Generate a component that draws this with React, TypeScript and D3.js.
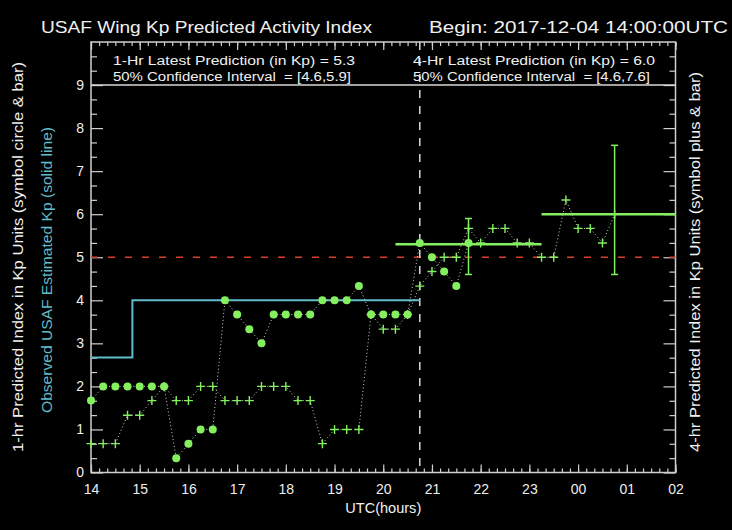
import * as d3 from "d3";
import { useEffect, useRef } from "react";

const START = "2017-12-04T14:00:00Z";
const END = "2017-12-05T02:00:00Z";
const NOW = "2017-12-04T20:45:00Z";

// 1-hr prediction, every 15 min from 14:00
const pred1hr = [
  1.67, 2.0, 2.0, 2.0, 2.0, 2.0, 2.0, 0.33, 0.67, 1.0, 1.0, 4.0, 3.67, 3.33, 3.0, 3.67,
  3.67, 3.67, 3.67, 4.0, 4.0, 4.0, 4.33, 3.67, 3.67, 3.67, 3.67, 5.33, 5.0, 4.67, 4.33, 5.33,
];
// 4-hr prediction, every 15 min from 14:00
const pred4hr = [
  0.67, 0.67, 0.67, 1.33, 1.33, 1.67, 2.0, 1.67, 1.67, 2.0, 2.0, 1.67, 1.67, 1.67, 2.0, 2.0,
  2.0, 1.67, 1.67, 0.67, 1.0, 1.0, 1.0, 3.67, 3.33, 3.33, 3.67, 4.33, 4.67, 5.0, 5.0, 5.67,
  5.33, 5.67, 5.67, 5.33, 5.33, 5.0, 5.0, 6.33, 5.67, 5.67, 5.33, 6.0,
];

const observedTimes = ["2017-12-04T14:00:00Z", "2017-12-04T14:51:00Z", "2017-12-04T20:45:00Z"];
const observedValues = [2.67, 4.0, 4.0];

const latest1hr = { value: 5.3, lo: 4.6, hi: 5.9, at: "2017-12-04T21:45:00Z", from: "2017-12-04T20:15:00Z", to: "2017-12-04T23:15:00Z" };
const latest4hr = { value: 6.0, lo: 4.6, hi: 7.6, at: "2017-12-05T00:45:00Z", from: "2017-12-04T23:15:00Z", to: "2017-12-05T02:00:00Z" };

const yMajor = [0, 1, 2, 3, 4, 5, 6, 7, 8, 9];
const threshold = 5;
const refLine = 9;

const W = 732;
const H = 530;
const FONT = "'Liberation Sans', Arial, sans-serif";
const GREEN = "#84f060";
const CYAN = "#62bccb";
const AXIS = "#cfcfcf";

export default function App() {
  const svgRef = useRef<SVGSVGElement | null>(null);

  useEffect(() => {
    const svg = d3.select(svgRef.current);
    svg.selectAll("*").remove();

    const left = 91, right = 675.5, top = 42, bottom = 472.5;
    const t0 = new Date(START);
    const x = d3.scaleUtc().domain([t0, new Date(END)]).range([left, right]);
    const y = d3.scaleLinear().domain([0, 10]).range([bottom, top]);
    const step = (i: number) => new Date(t0.getTime() + i * 15 * 60 * 1000);

    svg.append("rect").attr("width", W).attr("height", H).attr("fill", "#000");

    const styleAxis = (g: d3.Selection<SVGGElement, unknown, null, undefined>) => {
      g.select(".domain").remove();
      g.selectAll(".tick line").attr("stroke", AXIS).attr("stroke-width", 1.2);
      g.selectAll(".tick text")
        .attr("fill", "#eee")
        .attr("font-family", FONT)
        .attr("font-size", 14);
    };

    const hours = d3.utcHour.every(1)!;
    const tenMin = x.ticks(d3.utcMinute.every(10)!);
    const minorY = d3.range(0, 30).map(i => i / 3).filter(v => Math.abs(v - Math.round(v)) > 0.01);

    // bottom axis
    svg.append("g").attr("transform", `translate(0,${bottom})`)
      .call(d3.axisBottom(x).tickValues(tenMin).tickSize(-4).tickFormat(() => ""))
      .call(styleAxis);
    svg.append("g").attr("transform", `translate(0,${bottom})`)
      .call(d3.axisBottom(x).ticks(hours).tickSize(-8).tickPadding(12).tickFormat(d3.utcFormat("%H") as any))
      .call(styleAxis);
    // top axis
    svg.append("g").attr("transform", `translate(0,${top})`)
      .call(d3.axisTop(x).tickValues(tenMin).tickSize(-4).tickFormat(() => ""))
      .call(styleAxis);
    svg.append("g").attr("transform", `translate(0,${top})`)
      .call(d3.axisTop(x).ticks(hours).tickSize(-8).tickFormat(() => ""))
      .call(styleAxis);
    // left axis
    svg.append("g").attr("transform", `translate(${left},0)`)
      .call(d3.axisLeft(y).tickValues(minorY).tickSize(-6).tickFormat(() => ""))
      .call(styleAxis);
    svg.append("g").attr("transform", `translate(${left},0)`)
      .call(d3.axisLeft(y).tickValues(yMajor).tickSize(-12).tickPadding(7).tickFormat(d3.format("d")))
      .call(styleAxis);
    // right axis
    svg.append("g").attr("transform", `translate(${right},0)`)
      .call(d3.axisRight(y).tickValues(minorY).tickSize(-6).tickFormat(() => ""))
      .call(styleAxis);
    svg.append("g").attr("transform", `translate(${right},0)`)
      .call(d3.axisRight(y).tickValues(yMajor).tickSize(-12).tickFormat(() => ""))
      .call(styleAxis);

    // frame
    svg.append("rect")
      .attr("x", left).attr("y", top)
      .attr("width", right - left).attr("height", bottom - top)
      .attr("fill", "none").attr("stroke", AXIS).attr("stroke-width", 1.5);

    // reference lines
    svg.append("line")
      .attr("x1", left).attr("x2", right).attr("y1", y(refLine)).attr("y2", y(refLine))
      .attr("stroke", "#d8d8d8").attr("stroke-width", 1.5);
    svg.append("line")
      .attr("x1", left).attr("x2", right).attr("y1", y(threshold)).attr("y2", y(threshold))
      .attr("stroke", "#d8402c").attr("stroke-width", 1.3).attr("stroke-dasharray", "7,10");
    svg.append("line")
      .attr("x1", x(new Date(NOW))).attr("x2", x(new Date(NOW))).attr("y1", top).attr("y2", bottom)
      .attr("stroke", "#d8d8d8").attr("stroke-width", 1.5).attr("stroke-dasharray", "8,8");

    // observed step line
    const obs = observedTimes.map((t, i) => [new Date(t), observedValues[i]] as [Date, number]);
    svg.append("path")
      .datum(obs)
      .attr("fill", "none").attr("stroke", CYAN).attr("stroke-width", 2)
      .attr("d", d3.line<[Date, number]>().x(d => x(d[0])).y(d => y(d[1])).curve(d3.curveStepAfter));

    // latest prediction bars
    [latest1hr, latest4hr].forEach(p => {
      svg.append("line")
        .attr("x1", x(new Date(p.from))).attr("x2", x(new Date(p.to)))
        .attr("y1", y(p.value)).attr("y2", y(p.value))
        .attr("stroke", GREEN).attr("stroke-width", 2.5);
    });

    // dotted connectors
    const dotted = d3.line<number>().x((_, i) => x(step(i))).y(d => y(d));
    [pred4hr, pred1hr].forEach(series => {
      svg.append("path")
        .datum(series)
        .attr("fill", "none").attr("stroke", "#d0d0d0").attr("stroke-width", 1)
        .attr("stroke-dasharray", "1,2.5")
        .attr("d", dotted);
    });

    // error bars
    [latest1hr, latest4hr].forEach(p => {
      const cx = x(new Date(p.at));
      const g = svg.append("g").attr("stroke", GREEN).attr("stroke-width", 1.5);
      g.append("line").attr("x1", cx).attr("x2", cx).attr("y1", y(p.lo)).attr("y2", y(p.hi));
      g.append("line").attr("x1", cx - 3.5).attr("x2", cx + 3.5).attr("y1", y(p.lo)).attr("y2", y(p.lo));
      g.append("line").attr("x1", cx - 3.5).attr("x2", cx + 3.5).attr("y1", y(p.hi)).attr("y2", y(p.hi));
    });

    // 4-hr plus symbols
    svg.append("g").selectAll("path")
      .data(pred4hr)
      .join("path")
      .attr("transform", (d, i) => `translate(${x(step(i))},${y(d)})`)
      .attr("d", "M-4.5,0H4.5M0,-4.5V4.5")
      .attr("stroke", GREEN).attr("stroke-width", 1.4).attr("fill", "none");

    // 1-hr circles
    svg.append("g").selectAll("circle")
      .data(pred1hr)
      .join("circle")
      .attr("cx", (_, i) => x(step(i)))
      .attr("cy", d => y(d))
      .attr("r", 4)
      .attr("fill", GREEN);

    // texts
    const text = (s: string, tx: number, ty: number, size: number, len: number, fill = "#f0f0f0", rotate = false) => {
      const t = svg.append("text")
        .attr("font-family", FONT).attr("font-size", size).attr("fill", fill)
        .style("white-space", "pre")
        .attr("textLength", len).attr("lengthAdjust", "spacingAndGlyphs")
        .text(s);
      if (rotate) {
        t.attr("text-anchor", "middle")
          .attr("transform", `translate(${tx},${ty}) rotate(-90)`)
          .attr("dy", "0.35em");
      } else {
        t.attr("x", tx).attr("y", ty);
      }
      return t;
    };

    text("USAF Wing Kp Predicted Activity Index", 41, 33, 16.5, 331);
    text("Begin: 2017-12-04 14:00:00UTC", 429, 33, 16.5, 299);
    text("1-Hr Latest Prediction (in Kp) = 5.3", 113, 64.5, 12.5, 242);
    text("50% Confidence Interval  = [4.6,5.9]", 113, 81, 12.5, 238);
    text("4-Hr Latest Prediction (in Kp) = 6.0", 413, 64.5, 12.5, 242);
    text("50% Confidence Interval  = [4.6,7.6]", 413, 81, 12.5, 237);

    svg.append("text")
      .attr("x", (left + right) / 2).attr("y", 513)
      .attr("text-anchor", "middle")
      .attr("font-family", FONT).attr("font-size", 14).attr("fill", "#f0f0f0")
      .attr("textLength", 76).attr("lengthAdjust", "spacingAndGlyphs")
      .text("UTC(hours)");

    text("1-hr Predicted Index in Kp Units (symbol circle & bar)", 18, 257, 14, 390, "#f0f0f0", true);
    text("Observed USAF Estimated Kp (solid line)", 47, 270, 14, 286, CYAN, true);
    text("4-hr Predicted Index in Kp Units (symbol plus & bar)", 695, 262, 14, 380, "#f0f0f0", true);
  }, []);

  return (
    <svg
      ref={svgRef}
      width={W}
      height={H}
      style={{ position: "absolute", left: 0, top: 0, display: "block" }}
    />
  );
}
